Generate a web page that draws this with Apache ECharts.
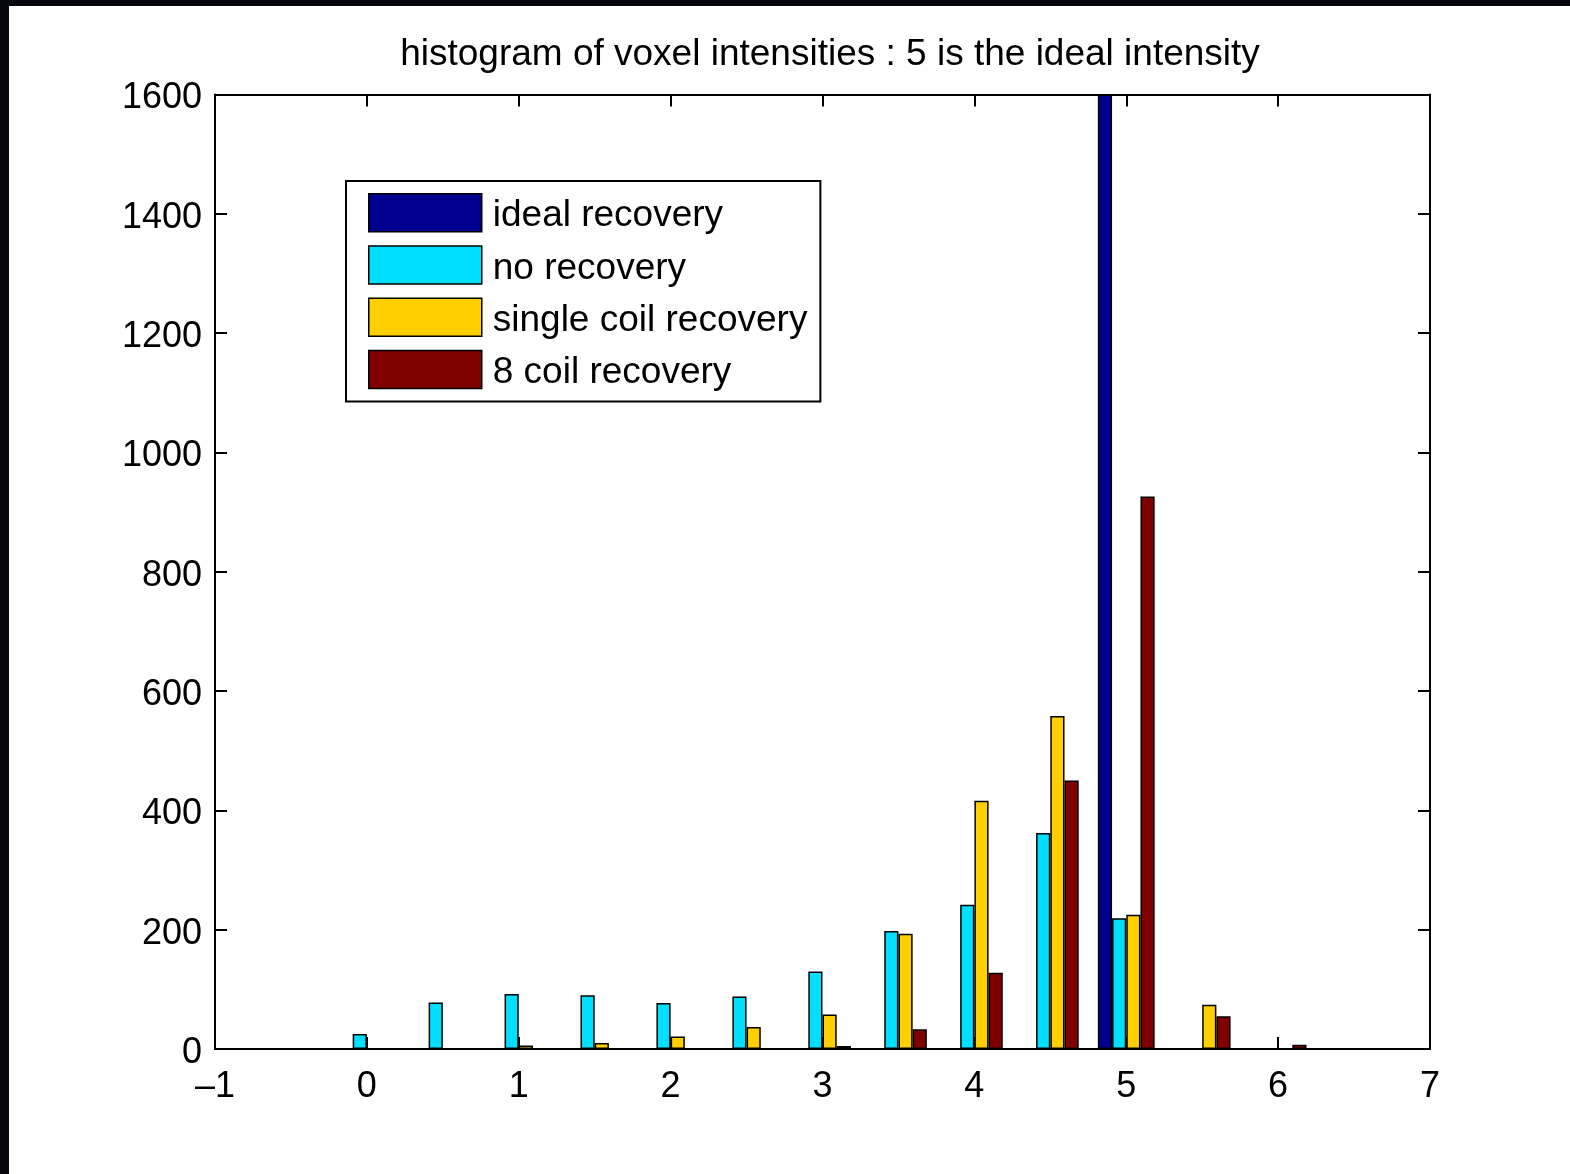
<!DOCTYPE html>
<html>
<head>
<meta charset="utf-8">
<title>histogram of voxel intensities</title>
<script src="https://cdn.jsdelivr.net/npm/echarts@6/dist/echarts.min.js"></script>
<style>
  html, body { margin: 0; padding: 0; background: #ffffff; }
  #chart { position: absolute; left: 0; top: 0; width: 1570px; height: 1174px; }
  .edge { position: absolute; background: #06060e; }
</style>
</head>
<body>
<div id="chart"></div>
<div class="edge" style="left:0;top:0;width:1570px;height:6px;"></div>
<div class="edge" style="left:0;top:0;width:9px;height:1174px;"></div>
<script>
// histogram bin centres (intensity)
const bins = [0, 0.5, 1, 1.5, 2, 2.5, 3, 3.5, 4, 4.5, 5, 5.5, 6];

// voxel counts per bin for each recovery method
const idealRecovery  = [0, 0, 0, 0, 0, 0, 0, 0, 0, 0, 1600, 0, 0];
const noRecovery     = [25, 78, 92, 90, 77, 88, 130, 198, 242, 362, 219, 0, 0];
const singleCoil     = [0, 0, 6, 10, 21, 37, 58, 193, 416, 558, 225, 74, 0];
const eightCoil      = [0, 0, 0, 0, 0, 1, 5, 33, 128, 450, 926, 55, 7];

const seriesNames = ['ideal recovery', 'no recovery', 'single coil recovery', '8 coil recovery'];
const seriesColors = ['#000090', '#00dfff', '#ffcf00', '#800000'];
const seriesValues = [idealRecovery, noRecovery, singleCoil, eightCoil];

// axis ranges and ticks
const xMin = -1, xMax = 7, xStep = 1;
const yMin = 0, yMax = 1600, yStep = 200;

const FONT = '"Liberation Sans", Arial, Helvetica, sans-serif';

const chart = echarts.init(document.getElementById('chart'), null, { renderer: 'canvas' });

const axisLine = { show: true, onZero: false, lineStyle: { color: '#000', width: 2 } };
const axisTick = { show: true, inside: true, length: 12, lineStyle: { color: '#000', width: 2 } };

function toPairs(values) {
  return bins.map((b, i) => [b, values[i]]);
}

const option = {
  backgroundColor: '#ffffff',
  animation: false,
  title: {
    text: 'histogram of voxel intensities : 5 is the ideal intensity',
    left: 825,
    top: 31,
    textAlign: 'center',
    textStyle: { fontFamily: FONT, fontSize: 37, fontWeight: 'normal', color: '#000' }
  },
  legend: {
    orient: 'vertical',
    left: 346,
    top: 181,
    data: seriesNames,
    icon: 'rect',
    itemWidth: 113,
    itemHeight: 38,
    itemGap: 10.5,
    padding: [12, 13, 10, 22],
    borderColor: '#000',
    borderWidth: 2,
    backgroundColor: '#fff',
    selectedMode: false,
    itemStyle: { borderColor: '#000', borderWidth: 1.5 },
    formatter: name => '{t|' + name + '}',
    textStyle: {
      fontFamily: FONT, fontSize: 37, color: '#000',
      rich: { t: { fontFamily: FONT, fontSize: 37, color: '#000', padding: [7, 0, 0, 6] } }
    }
  },
  grid: { left: 215, right: 140, top: 94.5, bottom: 125, containLabel: false },
  xAxis: [
    {
      type: 'value', position: 'bottom',
      min: xMin, max: xMax, interval: xStep,
      axisLine, axisTick,
      splitLine: { show: false },
      axisLabel: {
        margin: 20,
        fontFamily: FONT, fontSize: 36, color: '#000',
        formatter: v => String(v).replace('-', '\u2013')
      }
    },
    {
      type: 'value', position: 'top',
      min: xMin, max: xMax, interval: xStep,
      axisLine, axisTick,
      splitLine: { show: false },
      axisLabel: { show: false }
    }
  ],
  yAxis: [
    {
      type: 'value', position: 'left',
      min: yMin, max: yMax, interval: yStep,
      axisLine, axisTick,
      splitLine: { show: false },
      axisLabel: {
        margin: 13,
        fontFamily: FONT, fontSize: 36, color: '#000',
        formatter: v => '{n|' + v + '}',
        rich: { n: { fontFamily: FONT, fontSize: 36, color: '#000', padding: [8, 0, 0, 0] } }
      }
    },
    {
      type: 'value', position: 'right',
      min: yMin, max: yMax, interval: yStep,
      axisLine, axisTick,
      splitLine: { show: false },
      axisLabel: { show: false }
    }
  ],
  series: seriesNames.map((name, k) => ({
    name,
    type: 'bar',
    xAxisIndex: 0,
    yAxisIndex: 0,
    data: toPairs(seriesValues[k]),
    barWidth: 14.2,
    barGap: '0%',
    itemStyle: { color: seriesColors[k], borderColor: '#000', borderWidth: 1.5 },
    emphasis: { disabled: true }
  }))
};

chart.setOption(option);
</script>
</body>
</html>
